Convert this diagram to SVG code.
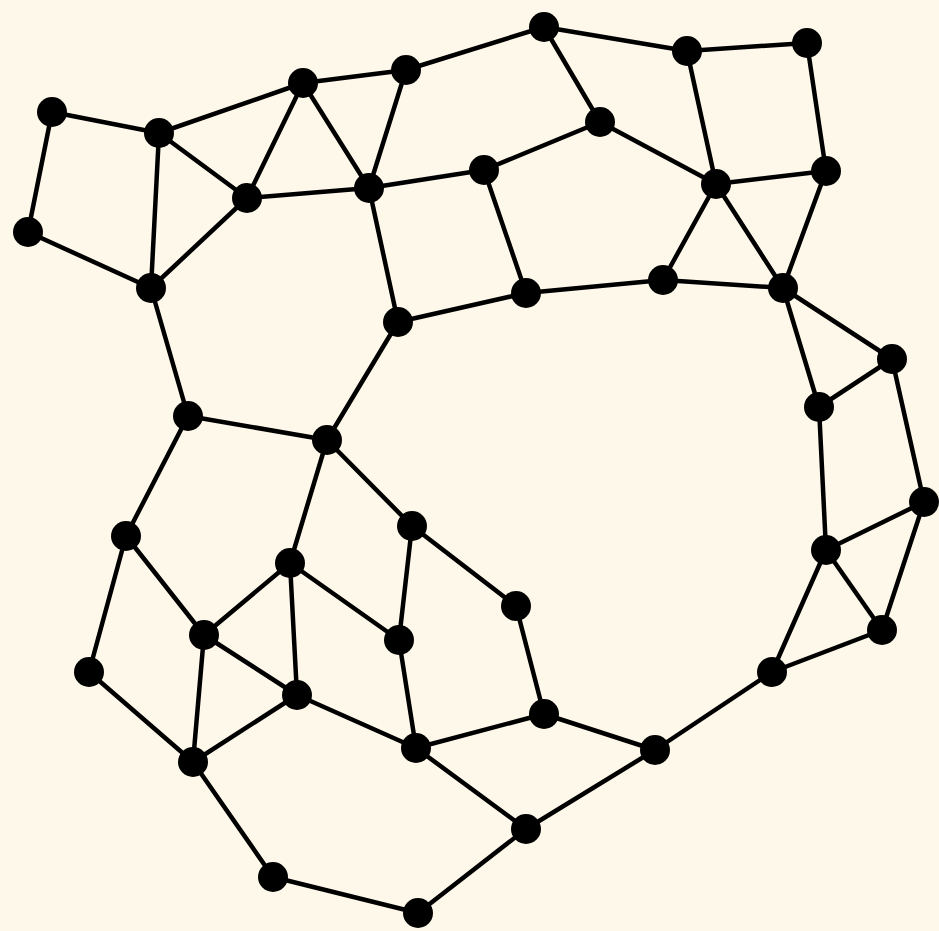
<svg xmlns="http://www.w3.org/2000/svg" width="939" height="931" viewBox="0 0 939 931">
<style>
.e{stroke:#000;stroke-width:4.5;stroke-linecap:round}
.n circle{fill:#000}
</style>
<rect width="939" height="931" fill="#fef8ea"/>
<g id="connectors" class="e">
<line x1="544" y1="27" x2="687" y2="51"/>
<line x1="687" y1="51" x2="807" y2="43"/>
<line x1="544" y1="27" x2="406" y2="70"/>
<line x1="544" y1="27" x2="600" y2="122"/>
<line x1="687" y1="51" x2="716" y2="184"/>
<line x1="807" y1="43" x2="826" y2="171"/>
<line x1="406" y1="70" x2="303" y2="83"/>
<line x1="406" y1="70" x2="369" y2="188"/>
<line x1="303" y1="83" x2="159" y2="133"/>
<line x1="303" y1="83" x2="247" y2="198"/>
<line x1="303" y1="83" x2="369" y2="188"/>
<line x1="52" y1="112" x2="159" y2="133"/>
<line x1="52" y1="112" x2="28" y2="232"/>
<line x1="159" y1="133" x2="247" y2="198"/>
<line x1="159" y1="133" x2="151" y2="288"/>
<line x1="28" y1="232" x2="151" y2="288"/>
<line x1="247" y1="198" x2="151" y2="288"/>
<line x1="247" y1="198" x2="369" y2="188"/>
<line x1="369" y1="188" x2="484" y2="170"/>
<line x1="484" y1="170" x2="600" y2="122"/>
<line x1="600" y1="122" x2="716" y2="184"/>
<line x1="716" y1="184" x2="826" y2="171"/>
<line x1="826" y1="171" x2="783" y2="288"/>
<line x1="716" y1="184" x2="663" y2="280"/>
<line x1="716" y1="184" x2="783" y2="288"/>
<line x1="484" y1="170" x2="526" y2="293"/>
<line x1="369" y1="188" x2="398" y2="322"/>
<line x1="398" y1="322" x2="526" y2="293"/>
<line x1="526" y1="293" x2="663" y2="280"/>
<line x1="663" y1="280" x2="783" y2="288"/>
<line x1="783" y1="288" x2="892" y2="359"/>
<line x1="783" y1="288" x2="819" y2="407"/>
<line x1="892" y1="359" x2="819" y2="407"/>
<line x1="892" y1="359" x2="924" y2="502"/>
<line x1="819" y1="407" x2="826" y2="550"/>
<line x1="826" y1="550" x2="924" y2="502"/>
<line x1="826" y1="550" x2="882" y2="630"/>
<line x1="924" y1="502" x2="882" y2="630"/>
<line x1="826" y1="550" x2="772" y2="672"/>
<line x1="882" y1="630" x2="772" y2="672"/>
<line x1="772" y1="672" x2="655" y2="750"/>
<line x1="655" y1="750" x2="544" y2="714"/>
<line x1="655" y1="750" x2="526" y2="829"/>
<line x1="544" y1="714" x2="416" y2="748"/>
<line x1="544" y1="714" x2="516" y2="606"/>
<line x1="516" y1="606" x2="412" y2="526"/>
<line x1="412" y1="526" x2="327" y2="440"/>
<line x1="412" y1="526" x2="399" y2="640"/>
<line x1="327" y1="440" x2="398" y2="322"/>
<line x1="327" y1="440" x2="188" y2="416"/>
<line x1="327" y1="440" x2="290" y2="563"/>
<line x1="188" y1="416" x2="151" y2="288"/>
<line x1="188" y1="416" x2="126" y2="536"/>
<line x1="126" y1="536" x2="204" y2="635"/>
<line x1="126" y1="536" x2="89" y2="672"/>
<line x1="89" y1="672" x2="193" y2="762"/>
<line x1="290" y1="563" x2="204" y2="635"/>
<line x1="290" y1="563" x2="399" y2="640"/>
<line x1="290" y1="563" x2="297" y2="695"/>
<line x1="204" y1="635" x2="297" y2="695"/>
<line x1="204" y1="635" x2="193" y2="762"/>
<line x1="297" y1="695" x2="193" y2="762"/>
<line x1="297" y1="695" x2="416" y2="748"/>
<line x1="399" y1="640" x2="416" y2="748"/>
<line x1="416" y1="748" x2="526" y2="829"/>
<line x1="526" y1="829" x2="418" y2="913"/>
<line x1="418" y1="913" x2="273" y2="877"/>
<line x1="273" y1="877" x2="193" y2="762"/>
</g>
<g class="n">
<g id="n1"><circle cx="544" cy="27" r="15"/></g>
<g id="n2"><circle cx="687" cy="51" r="15"/></g>
<g id="n3"><circle cx="807" cy="43" r="15"/></g>
<g id="n4"><circle cx="406" cy="70" r="15"/></g>
<g id="n5"><circle cx="303" cy="83" r="15"/></g>
<g id="n6"><circle cx="52" cy="112" r="15"/></g>
<g id="n7"><circle cx="159" cy="133" r="15"/></g>
<g id="n8"><circle cx="600" cy="122" r="15"/></g>
<g id="n9"><circle cx="826" cy="171" r="15"/></g>
<g id="n10"><circle cx="484" cy="170" r="15"/></g>
<g id="n11"><circle cx="716" cy="184" r="15"/></g>
<g id="n12"><circle cx="247" cy="198" r="15"/></g>
<g id="n13"><circle cx="369" cy="188" r="15"/></g>
<g id="n14"><circle cx="28" cy="232" r="15"/></g>
<g id="n15"><circle cx="151" cy="288" r="15"/></g>
<g id="n16"><circle cx="526" cy="293" r="15"/></g>
<g id="n17"><circle cx="663" cy="280" r="15"/></g>
<g id="n18"><circle cx="783" cy="288" r="15"/></g>
<g id="n19"><circle cx="398" cy="322" r="15"/></g>
<g id="n20"><circle cx="892" cy="359" r="15"/></g>
<g id="n21"><circle cx="819" cy="407" r="15"/></g>
<g id="n22"><circle cx="188" cy="416" r="15"/></g>
<g id="n23"><circle cx="327" cy="440" r="15"/></g>
<g id="n24"><circle cx="924" cy="502" r="15"/></g>
<g id="n25"><circle cx="126" cy="536" r="15"/></g>
<g id="n26"><circle cx="412" cy="526" r="15"/></g>
<g id="n27"><circle cx="826" cy="550" r="15"/></g>
<g id="n28"><circle cx="290" cy="563" r="15"/></g>
<g id="n29"><circle cx="516" cy="606" r="15"/></g>
<g id="n30"><circle cx="882" cy="630" r="15"/></g>
<g id="n31"><circle cx="204" cy="635" r="15"/></g>
<g id="n32"><circle cx="399" cy="640" r="15"/></g>
<g id="n33"><circle cx="89" cy="672" r="15"/></g>
<g id="n34"><circle cx="772" cy="672" r="15"/></g>
<g id="n35"><circle cx="297" cy="695" r="15"/></g>
<g id="n36"><circle cx="544" cy="714" r="15"/></g>
<g id="n37"><circle cx="416" cy="748" r="15"/></g>
<g id="n38"><circle cx="655" cy="750" r="15"/></g>
<g id="n39"><circle cx="193" cy="762" r="15"/></g>
<g id="n40"><circle cx="526" cy="829" r="15"/></g>
<g id="n41"><circle cx="273" cy="877" r="15"/></g>
<g id="n42"><circle cx="418" cy="913" r="15"/></g>
</g>
</svg>
